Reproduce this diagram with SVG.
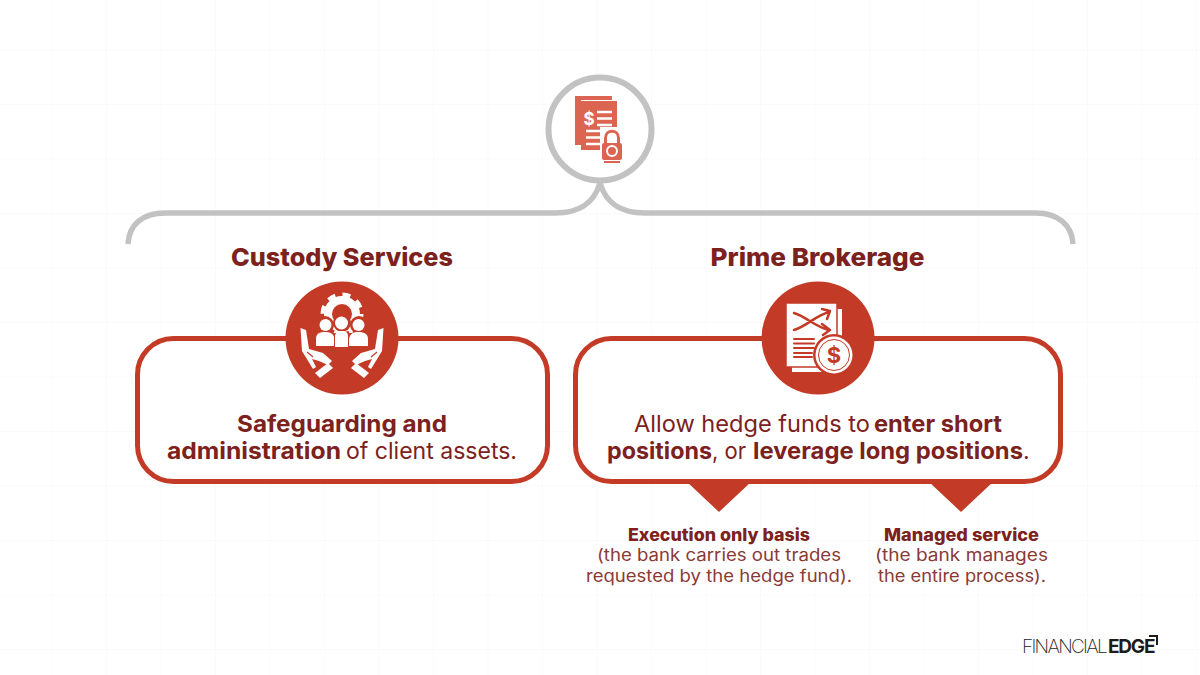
<svg xmlns="http://www.w3.org/2000/svg" width="1200" height="675" viewBox="0 0 1200 675">
<style>
text{font-family:"Inter","Open Sans","Liberation Sans",sans-serif;fill:#7c211c}
.t{font-size:25px;font-weight:800}
.m{font-size:23px;font-weight:400}
.mb{font-size:23px;font-weight:700}
.s{font-size:17px;font-weight:400;fill:#8a3a35}
.sb{font-size:17px;font-weight:800}
.red{fill:#c33b26}
.box{fill:#fff;stroke:#c33b26;stroke-width:5}
.dl{fill:none;stroke:#c33b26;stroke-linecap:round;stroke-linejoin:round}
.lg{font-size:19px;fill:#1c1c1c}
</style>
<defs>
<pattern id="grid" width="54.5" height="54.5" patternUnits="userSpaceOnUse" x="-2" y="-4">
<path d="M54 0V54.5M0 54H54.5" fill="none" stroke="#fafafa" stroke-width="1"/>
</pattern>
<g id="hand">
<path d="M300.500 328L306 330L309 349L323 353L332 361L328 365L319 361L312 359L316 367L313 369L302 351Z" fill="#fff"/>
<path d="M307 352L313 357" stroke="#c33b26" stroke-width="1.200"/>
<polygon points="315,373 328,363 333,368 320,378" fill="#fff"/>
</g>
</defs>
<rect width="1200" height="675" fill="#fff"/>
<rect width="1200" height="675" fill="url(#grid)"/>

<g id="connectors">
<path d="M128 244C129 225 142 213 165 213H555C580 213 594 203 600 183C606 203 620 213 645 213H1036C1058 213 1072 225 1073 244" fill="none" stroke="#c2c2c2" stroke-width="5.500"/>
<polygon class="red" points="686,481 752,481 719,512"/>
<polygon class="red" points="928,481 994,481 961,512"/>
</g>

<g id="node-root">
<circle cx="600" cy="129" r="51.500" fill="#fff" stroke="#c2c2c2" stroke-width="6"/>
<path d="M575 96H612V100H581V145H575Z" fill="#dc6552"/>
<path d="M581 101H617V150H581Z" fill="#dc6552"/>
<path stroke="#fff" stroke-width="2.500" fill="none" d="M597 112H612M597 118.500H612M597 125H612M586 131H601M586 137.500H601M586 144H601"/>
<text x="589" y="125" style="font-size:17px;font-weight:700;fill:#fff" text-anchor="middle">$</text>
<rect x="600" y="127" width="24" height="35" fill="#fff"/>
<rect x="602" y="143" width="20" height="17" rx="2" fill="#dc6552"/>
<path d="M605.500 143V138C605.500 129 618.500 129 618.500 138V143" fill="none" stroke="#dc6552" stroke-width="3"/>
<circle cx="612" cy="151" r="5" fill="none" stroke="#fff" stroke-width="2"/>
<path d="M604 162H620" stroke="#dc6552" stroke-width="2"/>
</g>

<g id="node-custody">
<text class="t" x="342" y="266" text-anchor="middle" textLength="222" lengthAdjust="spacingAndGlyphs">Custody Services</text>
<rect class="box" x="137.500" y="338.500" width="410" height="143" rx="36"/>
<circle class="red" cx="342" cy="338" r="56.500"/>
<circle cx="342" cy="314" r="14" fill="none" stroke="#fff" stroke-width="8"/>
<circle cx="342" cy="314" r="19.500" fill="none" stroke="#fff" stroke-width="4" stroke-dasharray="8 7.300"/>
<circle class="red" cx="325" cy="325" r="9"/><circle class="red" cx="359" cy="325" r="9"/><circle class="red" cx="342" cy="323" r="9"/>
<path class="red" d="M313 333H371V345H313Z"/>
<circle cx="325.500" cy="325" r="6" fill="#fff"/><circle cx="358.500" cy="325" r="6" fill="#fff"/><circle cx="341.500" cy="323" r="6.500" fill="#fff"/>
<path d="M316 346V339C316 333 320 332 325 332C329 332 333 333 334 337V346Z" fill="#fff"/>
<path d="M349 346V339C350 333 354 332 358 332C363 332 368 333 368 339V346Z" fill="#fff"/>
<path d="M335 347V337C335 332 338 331 342 331C346 331 348 332 348 337V347Z" fill="#fff"/>
<use href="#hand"/>
<use href="#hand" transform="matrix(-1 0 0 1 684 0)"/>
<text class="mb" x="237" y="432" textLength="210" lengthAdjust="spacingAndGlyphs">Safeguarding and</text>
<text class="mb" x="167" y="459" textLength="174" lengthAdjust="spacingAndGlyphs">administration</text>
<text class="m" x="346" y="459" textLength="171" lengthAdjust="spacingAndGlyphs">of client assets.</text>
</g>

<g id="node-prime">
<text class="t" x="817.500" y="266" text-anchor="middle" textLength="214" lengthAdjust="spacingAndGlyphs">Prime Brokerage</text>
<rect class="box" x="575.500" y="338.500" width="485" height="143" rx="36"/>
<circle class="red" cx="818" cy="338" r="56.500"/>
<path d="M792 309H842V367H833V372H792Z" fill="#fff"/>
<path d="M786 303H837V367H786Z" fill="#fff" stroke="#c33b26" stroke-width="1.500"/>
<path class="dl" stroke-width="2.500" d="M794 313C807 317 815 327 829 330M794 330C807 326 815 316 829 312M822 309L830 311L827 319M822 324L830 330L823 335"/>
<path class="dl" stroke-width="2" d="M794 339H814M794 343.500H814M794 348H814M794 353H812M794 357H812"/>
<circle class="red" cx="834" cy="355" r="21"/>
<circle cx="834" cy="355" r="18.500" fill="#fff"/>
<circle cx="834" cy="355" r="15.500" fill="none" stroke="#c33b26" stroke-width="1"/>
<text x="834" y="363" text-anchor="middle" style="font-size:22px;font-weight:700;fill:#c33b26">$</text>
<text class="m" x="634" y="432" textLength="236" lengthAdjust="spacingAndGlyphs">Allow hedge funds to</text>
<text class="mb" x="874" y="432" textLength="128" lengthAdjust="spacingAndGlyphs">enter short</text>
<text class="mb" x="607" y="459" textLength="105" lengthAdjust="spacingAndGlyphs">positions</text>
<text class="m" x="712" y="459" textLength="34" lengthAdjust="spacingAndGlyphs">, or</text>
<text class="mb" x="753" y="459" textLength="270" lengthAdjust="spacingAndGlyphs">leverage long positions</text>
<text class="m" x="1023" y="459">.</text>
</g>

<g id="node-execution">
<text class="sb" x="628" y="541" textLength="182" lengthAdjust="spacingAndGlyphs">Execution only basis</text>
<text class="s" x="597" y="561" textLength="244" lengthAdjust="spacingAndGlyphs">(the bank carries out trades</text>
<text class="s" x="586" y="582" textLength="266" lengthAdjust="spacingAndGlyphs">requested by the hedge fund).</text>
</g>

<g id="node-managed">
<text class="sb" x="884" y="541" textLength="155" lengthAdjust="spacingAndGlyphs">Managed service</text>
<text class="s" x="875" y="561" textLength="173" lengthAdjust="spacingAndGlyphs">(the bank manages</text>
<text class="s" x="878" y="582" textLength="168" lengthAdjust="spacingAndGlyphs">the entire process).</text>
</g>

<g id="logo">
<text class="lg" x="1022" y="653" style="font-weight:200;letter-spacing:-1.700px">FINANCIAL</text>
<text class="lg" x="1108" y="653" style="font-weight:700;letter-spacing:-1.200px">EDGE</text>
<path d="M1149 636H1157V645" fill="none" stroke="#1c1c1c" stroke-width="2"/>
</g>
</svg>
